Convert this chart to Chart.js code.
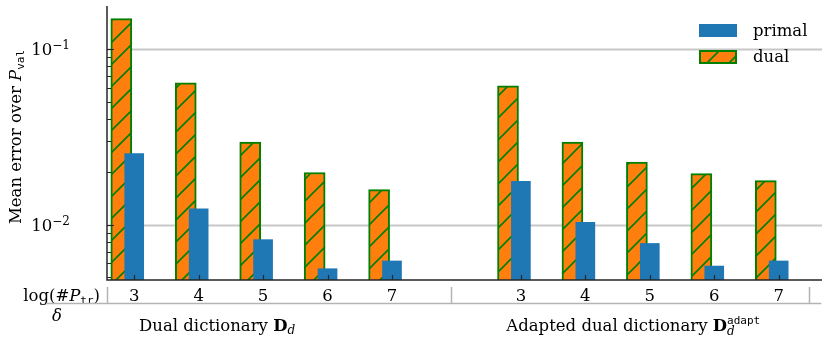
<!DOCTYPE html>
<html>
<head>
<meta charset="utf-8">
<script src="https://cdn.jsdelivr.net/npm/chart.js@4.4.1/dist/chart.umd.min.js"></script>
<style>
  html, body { margin: 0; padding: 0; background: #fff; }
  #chart { display: block; }
</style>
</head>
<body>
<canvas id="chart" width="831" height="342"></canvas>
<script>
// log(#P_tr) values, two groups (plain dual dictionary / adapted one)
const tickLabels = ['3', '4', '5', '6', '7', '3', '4', '5', '6', '7'];
// slot index of each bar on the x axis (slot 5 is the gap between the groups)
const slots = [0, 1, 2, 3, 4, 6, 7, 8, 9, 10];

const primal = [0.0254, 0.0123, 0.0082, 0.0056, 0.0062, 0.0176, 0.0103, 0.0078, 0.0058, 0.0062];
const dual = [0.149, 0.0642, 0.0295, 0.0198, 0.0158, 0.0616, 0.0295, 0.0227, 0.0195, 0.0178];

const groupLabels = ['Dual dictionary', 'Adapted dual dictionary'];

const SERIF = 'DejaVu Serif';
const MONO = 'DejaVu Sans Mono';
const FS = 16.5;

// Colores
const colores = {
  primal: '#1f77b4',
  dual: '#ff7f0e',
  edge: '#008000',
  grid: '#c8c8c8',
  spine: '#262626',
  deco: '#b4b4b4',
};

function makeHatch() {
  const s = 22;
  const c = document.createElement('canvas');
  c.width = s;
  c.height = s;
  const g = c.getContext('2d');
  g.fillStyle = colores.dual;
  g.fillRect(0, 0, s, s);
  g.strokeStyle = colores.edge;
  g.lineWidth = 1.6;
  g.beginPath();
  g.moveTo(-2, s + 2); g.lineTo(s + 2, -2);
  g.moveTo(-2, 2); g.lineTo(2, -2);
  g.moveTo(s - 2, s + 2); g.lineTo(s + 2, s - 2);
  g.stroke();
  return g.createPattern(c, 'repeat');
}

// runs: [{t, font, dy}] drawn one after the other on a baseline
function runsWidth(ctx, runs) {
  let w = 0;
  for (const r of runs) {
    ctx.font = r.font;
    w += r.adv === undefined ? ctx.measureText(r.t).width : r.adv;
  }
  return w;
}
function drawRuns(ctx, runs, x, y, align) {
  const w = runsWidth(ctx, runs);
  let cx = align === 'center' ? x - w / 2 : align === 'right' ? x - w : x;
  ctx.textBaseline = 'alphabetic';
  ctx.textAlign = 'left';
  for (const r of runs) {
    ctx.font = r.font;
    ctx.fillText(r.t, cx, y + (r.dy || 0));
    cx += r.adv === undefined ? ctx.measureText(r.t).width : r.adv;
  }
}

const serif = `${FS}px "${SERIF}"`;
const serifIt = `italic ${FS}px "${SERIF}"`;
const serifBold = `bold ${FS}px "${SERIF}"`;
const small = `12px "${SERIF}"`;
const smallIt = `italic 12px "${SERIF}"`;
const mono = `11px "${MONO}"`;

const decoPlugin = {
  id: 'deco',
  beforeDatasetsDraw(chart) {
    const { ctx, chartArea: a, scales: { y } } = chart;
    ctx.save();
    ctx.strokeStyle = colores.grid;
    ctx.lineWidth = 1.8;
    for (const v of [0.01, 0.1]) {
      const py = Math.round(y.getPixelForValue(v)) + 0.5;
      ctx.beginPath();
      ctx.moveTo(a.left, py);
      ctx.lineTo(a.right, py);
      ctx.stroke();
    }
    ctx.restore();
  },
  afterDatasetsDraw(chart) {
    const { ctx, chartArea: a, scales: { x, y } } = chart;
    ctx.save();
    ctx.fillStyle = '#000';

    // minor / major ticks pointing inwards on y
    ctx.strokeStyle = colores.spine;
    ctx.lineWidth = 1;
    for (let e = -3; e <= -1; e++) {
      for (let m = 1; m <= 9; m++) {
        const v = m * Math.pow(10, e);
        if (v < y.min || v > y.max) continue;
        const py = Math.round(y.getPixelForValue(v)) + 0.5;
        const len = m === 1 ? 7 : 4;
        ctx.beginPath();
        ctx.moveTo(a.left, py);
        ctx.lineTo(a.left + len, py);
        ctx.stroke();
      }
    }
    // ticks on x
    ctx.lineWidth = 1.2;
    slots.forEach((s) => {
      const px = Math.round(x.getPixelForValue(s)) + 0.5;
      ctx.beginPath();
      ctx.moveTo(px, a.bottom);
      ctx.lineTo(px, a.bottom - 5);
      ctx.stroke();
    });

    // spines
    ctx.lineWidth = 1.5;
    ctx.beginPath();
    ctx.moveTo(a.left, a.top);
    ctx.lineTo(a.left, a.bottom);
    ctx.lineTo(a.right, a.bottom);
    ctx.stroke();

    // y tick labels 10^-1, 10^-2
    [-1, -2].forEach((e) => {
      const py = y.getPixelForValue(Math.pow(10, e));
      drawRuns(ctx, [
        { t: '10', font: serif },
        { t: '\u2212' + (-e), font: small, dy: -6 },
      ], 70, py + 6, 'right');
    });

    // y title
    ctx.save();
    ctx.translate(21, (a.top + a.bottom) / 2 - 6);
    ctx.rotate(-Math.PI / 2);
    drawRuns(ctx, [
      { t: 'Mean error over ', font: serif },
      { t: 'P', font: serifIt },
      { t: 'val', font: mono, dy: 3 },
    ], 0, 0, 'center');
    ctx.restore();

    // x tick labels
    const ly = a.bottom + 21;
    ctx.font = serif;
    ctx.textAlign = 'center';
    slots.forEach((s, i) => {
      ctx.fillText(tickLabels[i], x.getPixelForValue(s), ly);
    });
    drawRuns(ctx, [
      { t: 'log(#', font: serif },
      { t: 'P', font: serifIt },
      { t: 'tr', font: mono, dy: 3 },
      { t: ')', font: serif },
    ], 100, ly, 'right');

    // group separators
    const w = a.right - a.left;
    const lineY = a.bottom + 23.5;
    ctx.strokeStyle = colores.deco;
    ctx.lineWidth = 1.5;
    ctx.beginPath();
    ctx.moveTo(46, lineY);
    ctx.lineTo(a.left + 0.999 * w, lineY);
    for (const f of [0, 0.481, 0.982]) {
      const px = Math.round(a.left + f * w) + 0.5;
      ctx.moveTo(px, a.bottom + 7);
      ctx.lineTo(px, lineY);
    }
    ctx.stroke();

    drawRuns(ctx, [{ t: '\u03b4', font: serifIt }], 57, a.bottom + 41, 'center');

    const gy = a.bottom + 51;
    drawRuns(ctx, [
      { t: groupLabels[0] + ' ', font: serif },
      { t: 'D', font: serifBold },
      { t: 'd', font: smallIt, dy: 3 },
    ], a.left + 0.154 * w, gy, 'center');
    drawRuns(ctx, [
      { t: groupLabels[1] + ' ', font: serif },
      { t: 'D', font: serifBold },
      { t: 'd', font: smallIt, dy: 4, adv: 0 },
      { t: 'adapt', font: mono, dy: -7 },
    ], a.left + 0.736 * w, gy, 'center');

    // legend
    const lx = 699, lw = 38;
    ctx.fillStyle = colores.primal;
    ctx.fillRect(lx, 24, lw, 13);
    ctx.fillStyle = chart.data.datasets[1].backgroundColor;
    ctx.fillRect(lx, 50, lw, 14);
    ctx.strokeStyle = colores.edge;
    ctx.lineWidth = 2;
    ctx.strokeRect(lx + 1, 51, lw - 2, 12);
    ctx.fillStyle = '#000';
    drawRuns(ctx, [{ t: 'primal', font: serif }], 753, 36, 'left');
    drawRuns(ctx, [{ t: 'dual', font: serif }], 753, 62, 'left');

    ctx.restore();
  },
};

const hatch = makeHatch();
const ctx = document.getElementById('chart').getContext('2d');
const myChart = new Chart(ctx, {
  type: 'bar',
  data: {
    datasets: [
      {
        label: 'primal',
        data: slots.map((s, i) => ({ x: s, y: primal[i] })),
        backgroundColor: colores.primal,
        barThickness: 19,
        grouped: false,
        xAxisID: 'x',
      },
      {
        label: 'dual',
        data: slots.map((s, i) => ({ x: s, y: dual[i] })),
        backgroundColor: hatch,
        borderColor: colores.edge,
        borderWidth: 2,
        barThickness: 21,
        grouped: false,
        xAxisID: 'x2',
      },
    ],
  },
  options: {
    responsive: false,
    animation: false,
    events: [],
    layout: { padding: { top: 6, right: 9, left: 0, bottom: 0 } },
    plugins: { legend: { display: false }, tooltip: { enabled: false } },
    scales: {
      x: {
        type: 'linear',
        min: -0.422,
        max: 10.672,
        offset: false,
        grid: { display: false },
        border: { display: false },
        ticks: { display: false },
        afterFit(s) { s.height = 62; },
      },
      x2: {
        type: 'linear',
        display: false,
        min: -0.222,
        max: 10.872,
        offset: false,
      },
      y: {
        type: 'logarithmic',
        min: 0.00483,
        max: 0.1758,
        grid: { display: false },
        border: { display: false },
        ticks: { display: false },
        afterFit(s) { s.width = 107; },
      },
    },
  },
  plugins: [decoPlugin],
});
</script>
</body>
</html>
